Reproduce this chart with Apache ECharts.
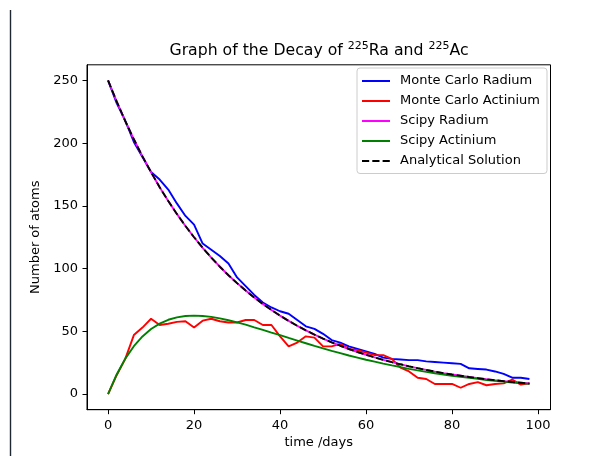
<!DOCTYPE html>
<html>
<head>
<meta charset="utf-8">
<script src="https://cdn.jsdelivr.net/npm/echarts@6/dist/echarts.min.js"></script>
<style>html,body{margin:0;padding:0;background:#fff;}#c{width:600px;height:456px;}</style>
</head>
<body>
<div id="c"></div>
<script>
// time in days
const days = [0,2,4,6,8,10,12,14,16,18,20,22,24,26,28,30,32,34,36,38,40,42,44,46,48,50,52,54,56,58,60,62,64,66,68,70,72,74,76,78,80,82,84,86,88,90,92,94,96,98];
const mcRadium = [250,232,218,201,189,177,171,163,152,142,135,120,115,110,104,93,86,79,73,69,66,64,59,54,52,48,43,41,38,36,34,32,29,28,27.5,27,27,26,25.5,25,24.5,24,20.5,20,19.5,18,16,13,13,12];
const mcActinium = [0,15,28,47,53,60,55,56,57.5,58,53,58.5,60,58,57,57,59,59,55,55,46,38,41,46,45,38,38,40,36,35,33,31,31,28,21,18,13,12,8,8,8,5,8,9.5,7,8,8.5,11.5,7.5,8.5];
const scipyRadium = [250,233.3,217.6,203.1,189.5,176.8,164.9,153.9,143.6,134.0,125.0,116.6,108.8,101.5,94.7,88.4,82.5,76.9,71.8,67.0,62.5,58.3,54.4,50.8,47.4,44.2,41.2,38.5,35.9,33.5,31.3,29.2,27.2,25.4,23.7,22.1,20.6,19.2,17.9,16.7,15.6,14.6,13.6,12.7,11.8,11.0,10.3,9.6,9.0,8.4];
const scipyActinium = [0,15.6,28.2,38.1,45.9,51.8,56.1,59.2,61.1,62.2,62.5,62.2,61.5,60.3,58.8,57.1,55.3,53.2,51.2,49.0,46.9,44.7,42.6,40.5,38.4,36.4,34.4,32.6,30.7,29.0,27.3,25.8,24.2,22.8,21.5,20.1,18.9,17.7,16.6,15.6,14.6,13.8,12.9,12.1,11.2,10.5,9.9,9.2,8.7,8.1];
const analytical = [250,233.3,217.6,203.1,189.5,176.8,164.9,153.9,143.6,134.0,125.0,116.6,108.8,101.5,94.7,88.4,82.5,76.9,71.8,67.0,62.5,58.3,54.4,50.8,47.4,44.2,41.2,38.5,35.9,33.5,31.3,29.2,27.2,25.4,23.7,22.1,20.6,19.2,17.9,16.7,15.6,14.6,13.6,12.7,11.8,11.0,10.3,9.6,9.0,8.4];
const xTicks = [0,20,40,60,80,100];
const yTicks = [0,50,100,150,200,250];
const seriesNames = ['Monte Carlo Radium','Monte Carlo Actinium','Scipy Radium','Scipy Actinium','Analytical Solution'];

const FONT = 'DejaVu Sans';
const pair = arr => days.map((d,i) => [d, arr[i]]);
const lw = 1.9;

const chart = echarts.init(document.getElementById('c'), null, {renderer:'canvas'});
chart.setOption({
  animation: false,
  backgroundColor: '#fff',
  title: {
    text: '{a|Graph of the Decay of }{s|225}{a|Ra and }{s|225}{a|Ac}',
    left: 314,
    textAlign: 'center',
    top: 34,
    textStyle: {
      fontWeight: 'normal',
      rich: {
        a: {fontFamily: FONT, fontSize: 15.7, fontWeight: 'normal', color: '#000', verticalAlign: 'bottom', lineHeight: 20},
        s: {fontFamily: FONT, fontSize: 11, fontWeight: 'normal', color: '#000', verticalAlign: 'bottom', lineHeight: 20, padding: [0,0,7,0]}
      }
    }
  },
  grid: {
    left: 87, right: 49.5, top: 64.8, bottom: 46.3,
    show: true, borderColor: '#000', borderWidth: 1,
    containLabel: false, outerBoundsMode: 'none'
  },
  legend: {
    orient: 'vertical',
    left: 357, top: 68,
    padding: [6.5, 7, 6, 4],
    itemWidth: 28, itemHeight: 14, itemGap: 7,
    itemStyle: {opacity: 0},
    backgroundColor: 'rgba(255,255,255,0.8)',
    borderColor: '#cccccc', borderWidth: 1, borderRadius: 3,
    textStyle: {fontFamily: FONT, fontSize: 13, color: '#000', padding: [0,0,0,5]},
    data: seriesNames
  },
  xAxis: {
    type: 'value', min: -4.9, max: 102.9,
    name: 'time /days', nameLocation: 'middle', nameGap: 24,
    nameTextStyle: {fontFamily: FONT, fontSize: 13, color: '#000', verticalAlign: 'top'},
    splitLine: {show: false},
    axisLine: {show: true, onZero: false, lineStyle: {color: '#000', width: 1}},
    axisTick: {show: true, length: 4.5, customValues: xTicks, lineStyle: {color: '#000', width: 1}},
    axisLabel: {customValues: xTicks, margin: 9, fontFamily: FONT, fontSize: 13, color: '#000'}
  },
  yAxis: {
    type: 'value', min: -12.5, max: 262.5,
    name: 'Number of atoms', nameLocation: 'middle', nameGap: 40,
    nameTextStyle: {fontFamily: FONT, fontSize: 13, color: '#000'},
    splitLine: {show: false},
    axisLine: {show: true, onZero: false, lineStyle: {color: '#000', width: 1}},
    axisTick: {show: true, length: 4.5, customValues: yTicks, lineStyle: {color: '#000', width: 1}},
    axisLabel: {customValues: yTicks, margin: 9, fontFamily: FONT, fontSize: 13, color: '#000'}
  },
  graphic: [{
    type: 'line', silent: true,
    shape: {x1: 10.5, y1: 10, x2: 10.5, y2: 456},
    style: {stroke: '#1f2733', lineWidth: 1.4}
  }],
  series: [
    {name: seriesNames[0], type: 'line', data: pair(mcRadium), symbol: 'none', lineStyle: {color: '#0000ff', width: lw}, itemStyle: {color: '#0000ff'}},
    {name: seriesNames[1], type: 'line', data: pair(mcActinium), symbol: 'none', lineStyle: {color: '#ff0000', width: lw}, itemStyle: {color: '#ff0000'}},
    {name: seriesNames[2], type: 'line', data: pair(scipyRadium), symbol: 'none', lineStyle: {color: '#ff00ff', width: lw}, itemStyle: {color: '#ff00ff'}},
    {name: seriesNames[3], type: 'line', data: pair(scipyActinium), symbol: 'none', lineStyle: {color: '#008000', width: lw}, itemStyle: {color: '#008000'}},
    {name: seriesNames[4], type: 'line', data: pair(analytical), symbol: 'none', lineStyle: {color: '#000000', width: lw, type: [7.2, 3.1]}, itemStyle: {color: '#000000'}}
  ]
});
</script>
</body>
</html>
